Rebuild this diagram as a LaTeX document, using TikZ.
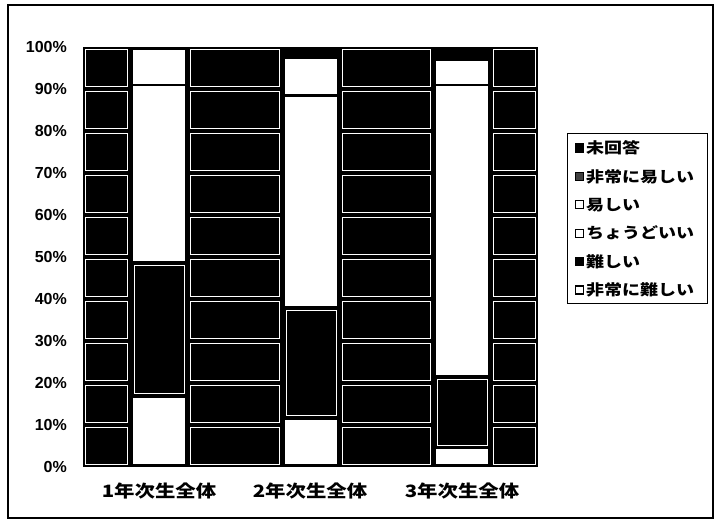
\documentclass[tikz,border=0pt]{standalone}
\usepackage{fontspec}
\setmainfont{Liberation Sans}
\newfontfamily\jpfont[FakeStretch=1.2]{Noto Sans CJK JP}
\usepackage{tikz}
\tikzset{
  cellbox/.style={draw=white, line width=0.9pt},
  segwhite/.style={fill=white, draw=black, line width=2.5pt},
  segdark/.style={fill=black, draw=black, line width=2.5pt},
  axislabel/.style={anchor=east, inner sep=0pt, font=\fontsize{16}{16}\selectfont\bfseries},
  catlabel/.style={inner sep=0pt, font=\jpfont\fontsize{17}{17}\selectfont\bfseries},
  legendlabel/.style={anchor=west, inner sep=0pt, font=\jpfont\fontsize{15}{15}\selectfont\bfseries},
  legendmark/.style={draw=black, minimum size=8pt, inner sep=0pt, line width=1.2pt}
}
\begin{document}
\begin{tikzpicture}[x=1pt,y=-1pt]
  \useasboundingbox (0,0) rectangle (714,519);
  \draw[line width=1.2pt] (8,5) rectangle (713,518);
  \fill[black] (83,47) rectangle (538,467);
  \begin{scope}[shift={(0,467)}, y=4.2pt]
    \foreach \xa/\xb in {83/130, 188/282, 340/433, 491/538}
      \foreach \p in {0,10,...,90}
        \draw[cellbox] (\xa+2.5,\p+0.6) rectangle (\xb-2.5,\p+9.4);
    \foreach \p in {0,10,...,100}
      \node[axislabel] (tick\p) at (67,\p) {\p\%};
    % 1年次生
    \draw[segwhite] (131.5,0.3) rectangle (186.5,16.7);
    \draw[segdark] (131.5,16.7) rectangle (186.5,48.8);
    \draw[cellbox] (134,17.4) rectangle (184,48.1);
    \draw[segwhite] (131.5,48.8) rectangle (186.5,91);
    \draw[segwhite] (131.5,91) rectangle (186.5,99.6);
    % 2年次生
    \draw[segwhite] (283.5,0.3) rectangle (338.5,11.5);
    \draw[segdark] (283.5,11.5) rectangle (338.5,38);
    \draw[cellbox] (286,12.2) rectangle (336,37.3);
    \draw[segwhite] (283.5,38) rectangle (338.5,88.5);
    \draw[segwhite] (283.5,88.5) rectangle (338.5,97.5);
    \draw[segdark] (283.5,97.5) rectangle (338.5,99.6);
    % 3年次生
    \draw[segwhite] (434.5,0.3) rectangle (489.5,4.5);
    \draw[segdark] (434.5,4.5) rectangle (489.5,21.5);
    \draw[cellbox] (437,5.2) rectangle (487,20.8);
    \draw[segwhite] (434.5,21.5) rectangle (489.5,91);
    \draw[segwhite] (434.5,91) rectangle (489.5,97);
    \draw[segdark] (434.5,97) rectangle (489.5,99.6);
  \end{scope}
  \node[catlabel] (cat1) at (159,491) {1年次生全体};
  \node[catlabel] (cat2) at (310,491) {2年次生全体};
  \node[catlabel] (cat3) at (462,491) {3年次生全体};
  \node[draw=black, line width=1pt, anchor=north west, minimum width=140pt, minimum height=170pt, inner sep=0pt] (legend) at (567,133) {};
  \foreach \i/\txt/\fc in {0/未回答/black, 1/非常に易しい/black!75, 2/易しい/white, 3/ちょうどいい/white, 4/難しい/black, 5/非常に難しい/white} {
    \node[legendmark, fill=\fc] (mark\i) at (579.5,148+28.4*\i) {};
    \node[legendlabel] (item\i) at (586,148+28.4*\i) {\txt};
  }
\end{tikzpicture}
\end{document}
